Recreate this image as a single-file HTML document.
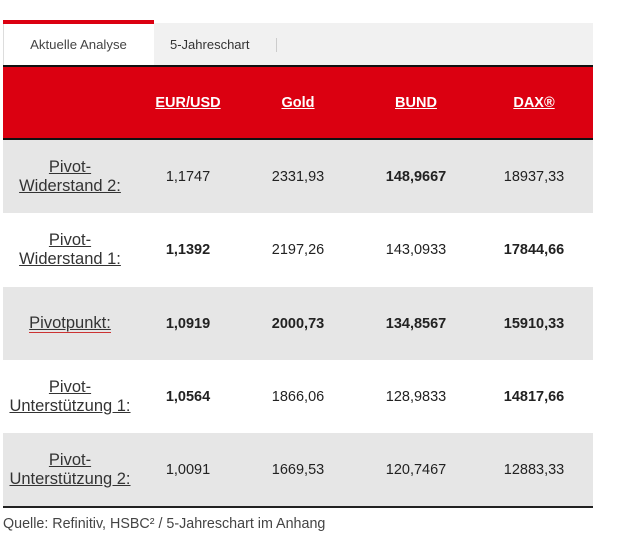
<!DOCTYPE html>
<html><head><meta charset="utf-8"><style>
*{margin:0;padding:0;box-sizing:border-box}
html,body{width:630px;height:550px;background:#fff;overflow:hidden;font-family:"Liberation Sans",Arial,sans-serif}
.abs{position:absolute}
.tabbar{left:154px;top:23px;width:439px;height:42px;background:#f1f1f1}
.tab{left:3px;top:20px;width:151px;height:45px;background:#fff;border-left:1px solid #ddd}
.tabred{left:3px;top:20px;width:151px;height:4px;background:#db0011}
.t1{left:3px;top:37px;width:151px;text-align:center;font-size:13.2px;color:#444}
.t2{left:170px;top:37px;font-size:13px;color:#333}
.sep{left:276px;top:38px;width:1px;height:14px;background:#ccc}
.bl{left:3px;width:590px;height:2px;background:#111}
.red{left:3px;top:67px;width:590px;height:71px;background:#db0011}
.row{left:3px;width:590px;display:flex;align-items:center}
.g{background:#e6e6e6}
.w{background:#fff}
.c{text-align:center;font-size:14.5px;color:#222}
.c0{width:134px;font-size:16.5px;line-height:19px;color:#333}
.c0 span{text-decoration:underline}
.c1{width:102px}
.c2,.c3,.c4{width:118px}
.b{font-weight:bold}
.hd .c{color:#fff;font-weight:bold;text-decoration:underline}
.src{left:3px;top:516px;font-size:14.3px;color:#444}
</style></head><body>
<div class="abs tabbar"></div>
<div class="abs tab"></div>
<div class="abs tabred"></div>
<div class="abs t1">Aktuelle Analyse</div>
<div class="abs t2">5-Jahreschart</div>
<div class="abs sep"></div>
<div class="abs bl" style="top:65px"></div>
<div class="abs red"></div>
<div class="abs row hd" style="top:67px;height:71px">
 <div class="c c0"></div><div class="c c1">EUR/USD</div><div class="c c2">Gold</div><div class="c c3">BUND</div><div class="c c4">DAX®</div>
</div>
<div class="abs bl" style="top:138px"></div>
<div class="abs row g" style="top:140px;height:73px">
 <div class="c c0"><span>Pivot-</span><br><span>Widerstand 2:</span></div><div class="c c1">1,1747</div><div class="c c2">2331,93</div><div class="c c3 b">148,9667</div><div class="c c4">18937,33</div>
</div>
<div class="abs row w" style="top:213px;height:74px">
 <div class="c c0"><span>Pivot-</span><br><span>Widerstand 1:</span></div><div class="c c1 b">1,1392</div><div class="c c2">2197,26</div><div class="c c3">143,0933</div><div class="c c4 b">17844,66</div>
</div>
<div class="abs row g" style="top:287px;height:73px">
 <div class="c c0"><span style="text-decoration-color:#333;border-bottom:1px solid #c33;padding-bottom:0px">Pivotpunkt:</span></div><div class="c c1 b">1,0919</div><div class="c c2 b">2000,73</div><div class="c c3 b">134,8567</div><div class="c c4 b">15910,33</div>
</div>
<div class="abs row w" style="top:360px;height:73px">
 <div class="c c0"><span>Pivot-</span><br><span>Unterstützung 1:</span></div><div class="c c1 b">1,0564</div><div class="c c2">1866,06</div><div class="c c3">128,9833</div><div class="c c4 b">14817,66</div>
</div>
<div class="abs row g" style="top:433px;height:73px">
 <div class="c c0"><span>Pivot-</span><br><span>Unterstützung 2:</span></div><div class="c c1">1,0091</div><div class="c c2">1669,53</div><div class="c c3">120,7467</div><div class="c c4">12883,33</div>
</div>
<div class="abs bl" style="top:506px;background:#222"></div>
<div class="abs src">Quelle: Refinitiv, HSBC² / 5-Jahreschart im Anhang</div>
</body></html>
